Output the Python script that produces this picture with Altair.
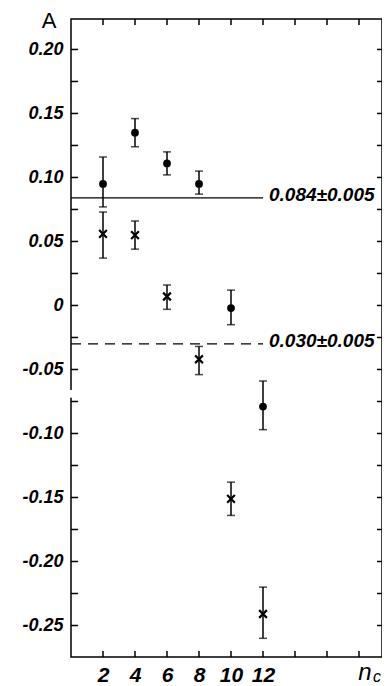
import altair as alt
import pandas as pd

# ---- data ----
n_values = [2, 4, 6, 8, 10, 12]
dot_A = [0.095, 0.135, 0.111, 0.095, -0.002, -0.079]
dot_lo = [0.077, 0.124, 0.102, 0.087, -0.015, -0.097]
dot_hi = [0.116, 0.146, 0.120, 0.105, 0.012, -0.059]
cross_A = [0.056, 0.055, 0.007, -0.042, -0.151, -0.241]
cross_lo = [0.037, 0.044, -0.003, -0.054, -0.164, -0.260]
cross_hi = [0.073, 0.066, 0.016, -0.032, -0.138, -0.220]

line_values = [0.084, -0.030]
line_labels = ["0.084±0.005", "0.030±0.005"]
line_dash = ["solid", "dashed"]
line_end_n = 12

y_tick_values = [0.20, 0.15, 0.10, 0.05, 0.0, -0.05, -0.10, -0.15, -0.20, -0.25]
x_tick_values = [2, 4, 6, 8, 10, 12]
frame_x_ticks = [2, 4, 6, 8, 10, 12, 14, 16, 18]
frame_y_ticks = [round(-0.25 + 0.025 * i, 3) for i in range(19)]
axis_gap = [-0.066, -0.072]

PAD_L, PAD_T = 63, 11
W, H = 311, 638
PAD_B = 27
xs = alt.Scale(domain=[0, W / 16.0], nice=False, zero=False)
ys = alt.Scale(domain=[-0.2746, 0.2238], nice=False, zero=False)

FONT = "Liberation Sans"

X_AXIS = alt.Axis(values=x_tick_values, format="d", ticks=False, tickSize=0, domain=False,
                  grid=False, labelPadding=7, labelFontSize=21, title=None)
Y_AXIS = alt.Axis(values=y_tick_values, ticks=False, tickSize=0, domain=False, grid=False,
                  labelPadding=8, labelFontSize=18, title=None,
                  labelExpr="datum.value == 0 ? '0' : (datum.value < 0 ? '-' : '') + format(abs(datum.value), '.2f')")


def X(field):
    return alt.X(field, type="quantitative", scale=xs, axis=X_AXIS)


def Y(field):
    return alt.Y(field, type="quantitative", scale=ys, axis=Y_AXIS)


dots = pd.DataFrame({"n": n_values, "A": dot_A, "lo": dot_lo, "hi": dot_hi})
crosses = pd.DataFrame({"n": n_values, "A": cross_A, "lo": cross_lo, "hi": cross_hi})
bars = pd.concat([dots, crosses], ignore_index=True)
caps = pd.concat([
    pd.DataFrame({"n": bars["n"], "A": bars["lo"]}),
    pd.DataFrame({"n": bars["n"], "A": bars["hi"]}),
], ignore_index=True)

lines = pd.DataFrame({"x0": [0, 0], "x1": [line_end_n, line_end_n], "A": line_values,
                      "label": line_labels, "dash": line_dash})

err = alt.Chart(bars).mark_rule(color="black", strokeWidth=1.5).encode(x=X("n"), y=Y("lo"), y2="hi")
cap = alt.Chart(caps).mark_tick(color="black", orient="horizontal", size=8, thickness=1.5).encode(
    x=X("n"), y=Y("A"))
dot_pts = alt.Chart(dots).mark_point(shape="circle", filled=True, size=60, color="black", opacity=1).encode(
    x=X("n"), y=Y("A"))
cross_pts = alt.Chart(crosses).mark_point(shape="M-1,-1L1,1M-1,1L1,-1", filled=False, size=60,
                                          strokeWidth=2.2, color="black", opacity=1).encode(
    x=X("n"), y=Y("A"))

solid = alt.Chart(lines[lines["dash"] == "solid"]).mark_rule(color="black", strokeWidth=1.3).encode(
    x=X("x0"), x2="x1", y=Y("A"))
dashed = alt.Chart(lines[lines["dash"] == "dashed"]).mark_rule(color="black", strokeWidth=1.3,
                                                               strokeDash=[10, 7]).encode(
    x=X("x0"), x2="x1", y=Y("A"))
line_text = alt.Chart(lines).mark_text(align="left", baseline="middle", dx=6, dy=-3, fontSize=19,
                                       font=FONT, fontStyle="italic", fontWeight="bold",
                                       color="black").encode(
    x=X("x1"), y=Y("A"), text="label:N")

ytk = pd.DataFrame({"A": frame_y_ticks})
xtk = pd.DataFrame({"n": frame_x_ticks})
left_ticks = alt.Chart(ytk).mark_rule(color="black", strokeWidth=1.5).encode(
    y=Y("A"), x=alt.value(0), x2=alt.value(7))
right_ticks = alt.Chart(ytk).mark_rule(color="black", strokeWidth=1.5).encode(
    y=Y("A"), x=alt.value(W - 5), x2=alt.value(W))
top_ticks = alt.Chart(xtk).mark_rule(color="black", strokeWidth=1.5).encode(
    x=X("n"), y=alt.value(0), y2=alt.value(6))
bottom_ticks = alt.Chart(xtk).mark_rule(color="black", strokeWidth=1.5).encode(
    x=X("n"), y=alt.value(H - 6), y2=alt.value(H))

gap = alt.Chart(pd.DataFrame({"a": [axis_gap[0]], "b": [axis_gap[1]]})).mark_rule(
    color="white", strokeWidth=4).encode(x=alt.value(0), y=Y("a"), y2="b")

a_label = alt.Chart(pd.DataFrame({"t": ["A"]})).mark_text(
    fontSize=22, font=FONT, color="black", align="center", baseline="middle").encode(
    x=alt.value(-22), y=alt.value(2), text="t:N")
n_label = alt.Chart(pd.DataFrame({"t": ["n"]})).mark_text(
    fontSize=24, font=FONT, fontStyle="italic", color="black", align="center", baseline="alphabetic").encode(
    x=alt.value(294), y=alt.value(661), text="t:N")
c_label = alt.Chart(pd.DataFrame({"t": ["c"]})).mark_text(
    fontSize=16, font=FONT, fontStyle="italic", color="black", align="center", baseline="alphabetic").encode(
    x=alt.value(306), y=alt.value(663), text="t:N")

chart = alt.layer(
    solid, dashed, err, cap, dot_pts, cross_pts, line_text,
    left_ticks, right_ticks, top_ticks, bottom_ticks, gap, a_label, n_label, c_label
).properties(
    width=W, height=H, autosize="none",
    padding={"left": PAD_L, "top": PAD_T, "right": 0, "bottom": PAD_B},
).configure_view(
    stroke="black", strokeWidth=1.5
).configure_axis(
    labelFont=FONT, labelFontStyle="italic", labelFontWeight="bold", labelColor="black"
)

chart.save("out.html", embed_options={"renderer": "svg", "actions": False})
